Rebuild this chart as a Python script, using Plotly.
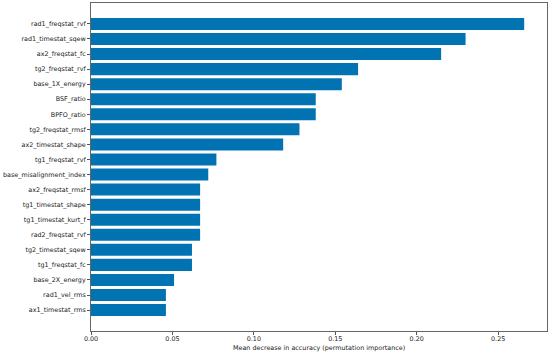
import plotly.graph_objects as go

features = ["rad1_freqstat_rvf", "rad1_timestat_sqew", "ax2_freqstat_fc", "tg2_freqstat_rvf",
            "base_1X_energy", "BSF_ratio", "BPFO_ratio", "tg2_freqstat_rmsf", "ax2_timestat_shape",
            "tg1_freqstat_rvf", "base_misalignment_index", "ax2_freqstat_rmsf", "tg1_timestat_shape",
            "tg1_timestat_kurt_f", "rad2_freqstat_rvf", "tg2_timestat_sqew", "tg1_freqstat_fc",
            "base_2X_energy", "rad1_vel_rms", "ax1_timestat_rms"]
importance = [0.266, 0.230, 0.215, 0.164, 0.154, 0.138, 0.138, 0.128, 0.118,
              0.077, 0.072, 0.067, 0.067, 0.067, 0.067, 0.062, 0.062,
              0.051, 0.046, 0.046]
x_ticks = [0.00, 0.05, 0.10, 0.15, 0.20, 0.25]
x_tick_labels = ["0.00", "0.05", "0.10", "0.15", "0.20", "0.25"]

fig = go.Figure(go.Bar(
    x=importance, y=list(range(len(features))), orientation="h",
    width=0.8, marker=dict(color="#0173B2", line=dict(width=0)),
    hoverinfo="skip"
))

font = dict(family="DejaVu Sans", size=6.4, color="#222222")
fig.update_layout(
    width=550, height=354,
    margin=dict(l=91, r=3, t=3, b=23),
    plot_bgcolor="white", paper_bgcolor="white",
    showlegend=False, font=font,
    xaxis=dict(range=[0, 0.28], tickvals=x_ticks, ticktext=x_tick_labels, automargin=False,
               showgrid=False, zeroline=False, ticks="outside", ticklen=3, ticklabelstandoff=-2,
               tickcolor="#555", showline=True, linecolor="#666", linewidth=1, mirror=True),
    yaxis=dict(range=[20.39, -1.39], tickvals=list(range(len(features))), ticktext=features,
               automargin=False,
               showgrid=False, zeroline=False, ticks="outside", ticklen=3,
               tickcolor="#555", showline=True, linecolor="#666", linewidth=1, mirror=True),
    annotations=[dict(text="Mean decrease in accuracy (permutation importance)",
                      xref="paper", yref="paper", x=0.5, y=0, yshift=-17,
                      xanchor="center", yanchor="middle", showarrow=False,
                      font=dict(size=6.4))],
)
fig.write_html("out.html", config={"displayModeBar": False},
               post_script="document.body.style.margin='0';")
